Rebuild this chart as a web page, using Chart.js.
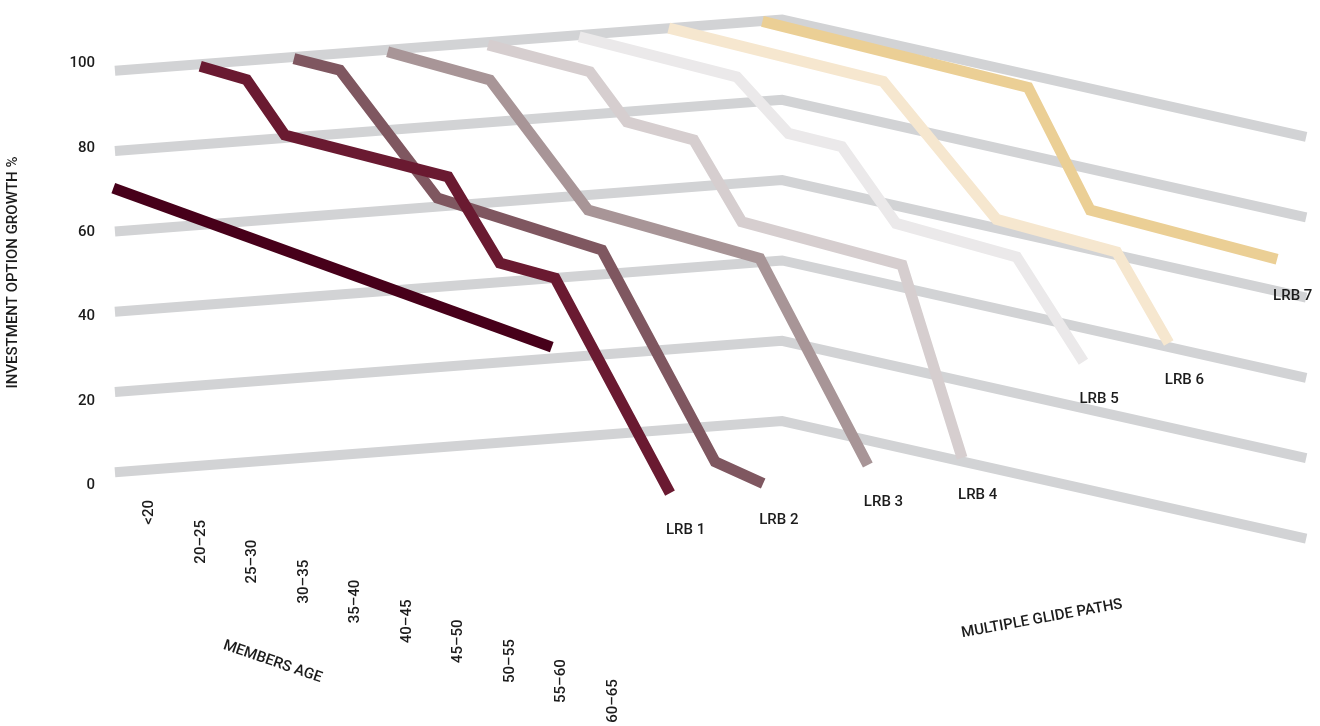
<!DOCTYPE html>
<html>
<head>
<meta charset="utf-8">
<title>Multiple glide paths</title>
<script src="https://cdn.jsdelivr.net/npm/chart.js@4.4.1/dist/chart.umd.min.js"></script>
<style>
  html, body { margin: 0; padding: 0; background: #fff; }
  #wrap { width: 1320px; height: 726px; position: relative; }
</style>
</head>
<body>
<div id="wrap"><canvas id="glideChart"></canvas></div>
<script>
// categories
const ageBands = ['<20', '20–25', '25–30', '30–35', '35–40', '40–45', '45–50', '50–55', '55–60', '60–65'];
const pathNames = ['LRB 1', 'LRB 2', 'LRB 3', 'LRB 4', 'LRB 5', 'LRB 6', 'LRB 7'];
const growthLevels = [0, 20, 40, 60, 80, 100];

// each path: position along the age axis (in age bands) and growth % at that point
const singleAge = [0.13, 8.53];
const singleGrowth = [71.3, 56.2];
const lrb1Age = [0, 0.89, 1.62, 4.75, 5.74, 6.8, 9.0];
const lrb1Growth = [99.5, 98.7, 87.1, 85.8, 67.2, 66.5, 19.4];
const lrb2Age = [0, 0.88, 2.75, 5.9, 8.07, 8.99];
const lrb2Growth = [99.6, 99.3, 72.9, 69.1, 22.7, 20.0];
const lrb3Age = [0, 1.96, 3.84, 7.13, 9.2];
const lrb3Growth = [99.5, 98.2, 71.3, 68.8, 23.4];
const lrb4Age = [0.13, 2.08, 2.79, 4.07, 4.99, 8.06, 9.21];
const lrb4Growth = [99.8, 98.8, 88.4, 87.6, 69.9, 68.1, 23.4];
const lrb5Age = [0.08, 3.1, 4.09, 5.11, 6.15, 8.46, 9.74];
const lrb5Growth = [99.9, 98.7, 87.5, 87.2, 71.1, 69.5, 47.1];
const lrb6Age = [0, 4.11, 6.28, 8.58, 9.58];
const lrb6Growth = [100, 98.7, 70.7, 69.3, 49.5];
const lrb7Age = [0, 5.09, 6.28, 9.86];
const lrb7Growth = [99.9, 98.3, 71.2, 69.4];

const pathColors = ['#47001a', '#6a1a31', '#7f5760', '#a89597', '#d6cecf', '#ebe9ea', '#f6e7cf', '#ebcf95'];
const GRID_COLOR = '#d2d3d5';
const TEXT_COLOR = '#1c1c1c';
const FONT = '500 15px Roboto';

// oblique projection of (age, path depth, growth) onto the page
const ORIGIN_X = 106.5, ORIGIN_Y = 473;
const AGE_DX = 52.2, AGE_DY = 11.7;
const PATH_DX = 93.7, PATH_DY = -7.2;
const GROWTH_PX = 4.016;
const AREA = { left: 100, top: 0, right: 1320, bottom: 726 };
// walls the grid is drawn on
const WALL_PATH_MIN = 0.09, WALL_PATH_MAX = 7.21, WALL_AGE_MAX = 10.04;

function project(age, depth, growth) {
  return {
    x: age + depth * PATH_DX / AGE_DX,
    y: growth - (age * AGE_DY + depth * PATH_DY) / GROWTH_PX
  };
}

const paths = [
  [singleAge, singleGrowth],
  [lrb1Age, lrb1Growth], [lrb2Age, lrb2Growth], [lrb3Age, lrb3Growth],
  [lrb4Age, lrb4Growth], [lrb5Age, lrb5Growth], [lrb6Age, lrb6Growth],
  [lrb7Age, lrb7Growth]
];

const datasets = [];
paths.forEach(([ages, growth], k) => {
  datasets.push({
    label: k === 0 ? 'Single path' : pathNames[k - 1],
    data: ages.map((a, i) => project(a, k, growth[i])),
    borderColor: pathColors[k],
    borderWidth: 11,
    borderJoinStyle: 'miter',
    borderCapStyle: 'butt',
    pointRadius: 0,
    tension: 0
  });
});
growthLevels.forEach(level => {
  datasets.push({
    label: 'grid ' + level,
    data: [
      project(0, WALL_PATH_MIN, level),
      project(0, WALL_PATH_MAX, level),
      project(WALL_AGE_MAX, WALL_PATH_MAX, level)
    ],
    borderColor: GRID_COLOR,
    borderWidth: 10,
    borderJoinStyle: 'miter',
    borderCapStyle: 'butt',
    pointRadius: 0,
    tension: 0
  });
});

// tick labels sit a little off the wall, on their own scale
const TICK_ZERO_Y = 485.4, TICK_PX = 4.219;

const labelPlugin = {
  id: 'glideLabels',
  afterDatasetsDraw(chart) {
    const ctx = chart.ctx;
    ctx.save();
    ctx.fillStyle = TEXT_COLOR;
    ctx.textBaseline = 'middle';
    ctx.font = FONT;

    // name under the end of each path
    ctx.textAlign = 'left';
    pathNames.forEach((name, i) => {
      const pts = chart.getDatasetMeta(i + 1).data;
      const end = pts[pts.length - 1];
      ctx.fillText(name, end.x - 4, end.y + 37);
    });

    // age bands, stepping down along the age axis
    ctx.textAlign = 'right';
    ageBands.forEach((band, i) => {
      ctx.save();
      ctx.translate(149.4 + 51.54 * i, 500 + 19.9 * i);
      ctx.rotate(-Math.PI / 2);
      ctx.fillText(band, 0, 0);
      ctx.restore();
    });

    ctx.textAlign = 'center';
    ctx.save();
    ctx.translate(13.5, 272.5);
    ctx.rotate(-Math.PI / 2);
    ctx.fillText('INVESTMENT OPTION GROWTH %', 0, 0);
    ctx.restore();

    ctx.save();
    ctx.translate(272.5, 662);
    ctx.rotate(19 * Math.PI / 180);
    ctx.fillText('MEMBERS AGE', 0, 0);
    ctx.restore();

    ctx.save();
    ctx.translate(1042, 619);
    ctx.rotate(-10.3 * Math.PI / 180);
    ctx.fillText('MULTIPLE GLIDE PATHS', 0, 0);
    ctx.restore();

    ctx.restore();
  }
};

new Chart(document.getElementById('glideChart'), {
  type: 'line',
  data: { datasets: datasets },
  plugins: [labelPlugin],
  options: {
    responsive: true,
    maintainAspectRatio: false,
    animation: false,
    events: [],
    layout: { padding: 0 },
    plugins: { legend: { display: false }, tooltip: { enabled: false } },
    scales: {
      x: {
        type: 'linear',
        display: false,
        min: (AREA.left - ORIGIN_X) / AGE_DX,
        max: (AREA.right - ORIGIN_X) / AGE_DX
      },
      y: {
        type: 'linear',
        display: false,
        min: (ORIGIN_Y - AREA.bottom) / GROWTH_PX,
        max: (ORIGIN_Y - AREA.top) / GROWTH_PX
      },
      yTicks: {
        type: 'linear',
        position: 'left',
        min: (TICK_ZERO_Y - AREA.bottom) / TICK_PX,
        max: (TICK_ZERO_Y - AREA.top) / TICK_PX,
        grid: { display: false, drawTicks: false },
        border: { display: false },
        ticks: {
          padding: 5,
          color: TEXT_COLOR,
          font: { family: 'Roboto', size: 15, weight: '500' }
        },
        afterBuildTicks: axis => { axis.ticks = growthLevels.map(v => ({ value: v })); },
        afterFit: axis => {
          axis.width = AREA.left;
          axis.paddingTop = 0;
          axis.paddingBottom = 0;
        }
      }
    }
  }
});
</script>
</body>
</html>
